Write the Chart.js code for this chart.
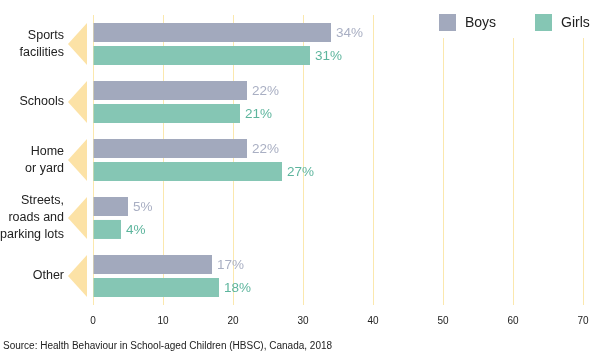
<!DOCTYPE html>
<html>
<head>
<meta charset="utf-8">
<script src="https://cdn.jsdelivr.net/npm/chart.js@4.4.1/dist/chart.umd.min.js"></script>
<style>
  html, body { margin: 0; padding: 0; background: #ffffff; }
  #wrap { position: relative; width: 600px; height: 355px; }
</style>
</head>
<body>
<div id="wrap"><canvas id="c" width="600" height="355"></canvas></div>
<script>
// ---- data ----
const categories = [['Sports', 'facilities'], 'Schools', ['Home', 'or yard'], ['Streets,', 'roads and', 'parking lots'], 'Other'];
const seriesNames = ['Boys', 'Girls'];
const boys = [34, 22, 22, 5, 17];
const girls = [31, 21, 27, 4, 18];
const xMin = 0;
const xMax = 70;
const xStep = 10;
const sourceText = 'Source: Health Behaviour in School-aged Children (HBSC), Canada, 2018';

// ---- styles ----
const barColors = ['#a2a9bd', '#85c6b4'];
const labelColors = ['#a9afc3', '#5db59d'];
const gridColor = '#fbe8ae';
const arrowColor = '#fce2a6';
const textColor = '#222222';
const FONT = '"Liberation Sans", Arial, Helvetica, sans-serif';

const decorPlugin = {
  id: 'decor',
  afterDraw(chart) {
    const ctx = chart.ctx;
    const area = chart.chartArea;
    const m0 = chart.getDatasetMeta(0);
    const m1 = chart.getDatasetMeta(1);
    ctx.save();
    // arrows left of each category
    ctx.fillStyle = arrowColor;
    m0.data.forEach((b0, i) => {
      const b1 = m1.data[i];
      const top = b0.y - b0.height / 2;
      const bot = b1.y + b1.height / 2;
      const mid = (top + bot) / 2;
      const right = area.left - 6;
      const tip = area.left - 25;
      ctx.beginPath();
      ctx.moveTo(right, top);
      ctx.lineTo(right, bot);
      ctx.lineTo(tip, mid);
      ctx.closePath();
      ctx.fill();
    });
    // value labels
    ctx.font = '13.5px ' + FONT;
    ctx.textBaseline = 'middle';
    ctx.textAlign = 'left';
    [m0, m1].forEach((meta, di) => {
      ctx.fillStyle = labelColors[di];
      const vals = di === 0 ? boys : girls;
      meta.data.forEach((bar, i) => {
        ctx.fillText(vals[i] + '%', bar.x + 5, bar.y + 1);
      });
    });
    // legend (with white backing over gridlines)
    ctx.fillStyle = '#ffffff';
    ctx.fillRect(area.right - 155, 0, 200, 38);
    const boxX = [area.right - 144, area.right - 48];
    ctx.font = '14px ' + FONT;
    seriesNames.forEach((name, i) => {
      ctx.fillStyle = barColors[i];
      ctx.fillRect(boxX[i], 14, 17, 17);
      ctx.fillStyle = textColor;
      ctx.fillText(name, boxX[i] + 26, 23);
    });
    // source
    ctx.font = '10px ' + FONT;
    ctx.fillStyle = textColor;
    ctx.fillText(sourceText, 3, 346);
    ctx.restore();
  }
};

new Chart(document.getElementById('c'), {
  type: 'bar',
  data: {
    labels: categories,
    datasets: [
      { label: seriesNames[0], data: boys, backgroundColor: barColors[0], categoryPercentage: 0.79, barPercentage: 0.83 },
      { label: seriesNames[1], data: girls, backgroundColor: barColors[1], categoryPercentage: 0.79, barPercentage: 0.83 }
    ]
  },
  options: {
    indexAxis: 'y',
    responsive: false,
    animation: false,
    devicePixelRatio: 1,
    layout: { padding: { top: 15, right: 17, bottom: 25, left: 0 } },
    plugins: { legend: { display: false }, tooltip: { enabled: false }, title: { display: false } },
    scales: {
      x: {
        min: xMin, max: xMax,
        ticks: { stepSize: xStep, color: textColor, font: { family: FONT, size: 10 }, padding: 10 },
        grid: { color: gridColor, drawTicks: false, lineWidth: 1 },
        border: { display: false },
        afterFit(s) { s.height = 25; s.paddingLeft = 0; s.paddingRight = 0; }
      },
      y: {
        ticks: { autoSkip: false, color: textColor, font: { family: FONT, size: 12.5, lineHeight: 1.36 }, padding: 29 },
        grid: { display: false, drawTicks: false },
        border: { display: false },
        afterFit(s) { s.width = 93; s.paddingTop = 0; s.paddingBottom = 0; }
      }
    }
  },
  plugins: [decorPlugin]
});
</script>
</body>
</html>
